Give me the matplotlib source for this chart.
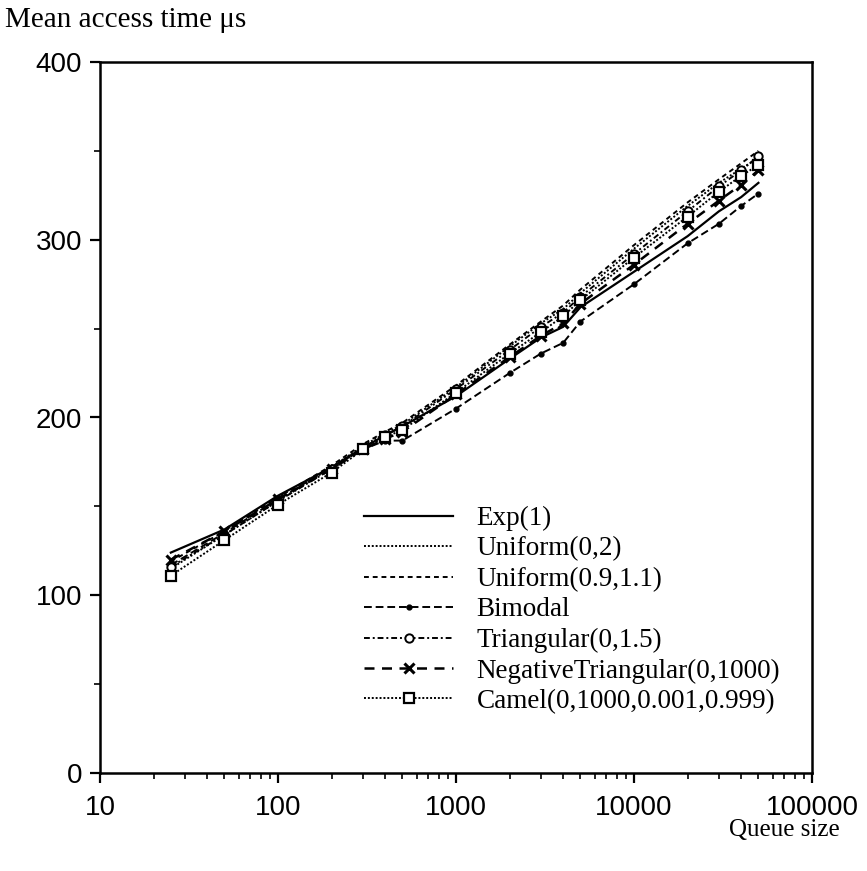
import matplotlib
matplotlib.use("Agg")
import matplotlib.pyplot as plt
from matplotlib.ticker import FixedLocator, NullFormatter, LogLocator

# queue sizes and mean access times (us) per distribution
queue_size = [25, 50, 100, 200, 300, 400, 500, 1000, 2000, 3000, 4000, 5000,
              10000, 20000, 30000, 40000, 50000]

exp1 = [124, 137, 156, 172, 183, 190, 195, 212, 233, 245, 251, 262, 282, 302, 316, 324, 332]
uniform_0_2 = [115, 134, 153, 172, 184, 191, 196, 217, 240, 253, 261, 270, 295, 319, 332, 340, 346]
uniform_09_11 = [119, 136, 155, 173, 185, 192, 197, 218, 241, 254, 263, 272, 297, 321, 334, 343, 350]
bimodal = [117, 135, 154, 172, 182, 187, 187, 205, 225, 236, 242, 254, 275, 298, 309, 319, 326]
triangular = [116, 134, 153, 171, 183, 190, 195, 216, 238, 251, 259, 268, 292, 316, 330, 339, 347]
neg_triangular = [120, 136, 154, 171, 182, 188, 192, 213, 234, 246, 253, 264, 286, 309, 322, 331, 339]
camel = [111, 131, 151, 169, 182, 189, 193, 214, 236, 248, 257, 266, 290, 313, 327, 336, 342]

labels = ["Exp(1)", "Uniform(0,2)", "Uniform(0.9,1.1)", "Bimodal",
          "Triangular(0,1.5)", "NegativeTriangular(0,1000)", "Camel(0,1000,0.001,0.999)"]

fig = plt.figure(figsize=(8.67, 8.71), dpi=100)
ax = fig.add_axes([100/867, 1-773/871, 712/867, 711/871])

ax.plot(queue_size, exp1, color="black", lw=1.6, ls="-", label=labels[0])
ax.plot(queue_size, uniform_0_2, color="black", lw=1.4, ls=(0, (1, 1)), label=labels[1])
ax.plot(queue_size, uniform_09_11, color="black", lw=1.4, ls=(0, (2.5, 2)), label=labels[2])
ax.plot(queue_size, bimodal, color="black", lw=1.4, ls=(0, (4, 2)), marker="o",
        ms=3.5, mfc="black", label=labels[3])
ax.plot(queue_size, triangular, color="black", lw=1.4, ls=(0, (3, 1.5, 1, 1.5)), marker="o",
        ms=6, mfc="white", mew=1.4, label=labels[4])
ax.plot(queue_size, neg_triangular, color="black", lw=1.8, ls=(0, (4, 3)), marker="x",
        ms=7, mew=2.2, label=labels[5])
ax.plot(queue_size, camel, color="black", lw=1.4, ls=(0, (1, 1)), marker="s",
        ms=7, mfc="white", mew=1.6, label=labels[6])

ax.set_xscale("log")
ax.set_xlim(10, 100000)
ax.set_ylim(0, 400)
ax.set_xticks([10, 100, 1000, 10000, 100000])
ax.set_xticklabels(["10", "100", "1000", "10000", "100000"])
ax.xaxis.set_minor_locator(LogLocator(base=10, subs=range(2, 10)))
ax.xaxis.set_minor_formatter(NullFormatter())
ax.set_yticks([0, 100, 200, 300, 400])
ax.yaxis.set_minor_locator(FixedLocator([50, 150, 250, 350]))

for s in ax.spines.values():
    s.set_linewidth(1.8)
ax.tick_params(which="major", direction="out", length=7, width=1.6,
               labelsize=20, pad=6, top=False, right=False)
ax.tick_params(axis="x", which="major", pad=9)
ax.tick_params(which="minor", direction="out", length=4, width=1.2, top=False, right=False)
for t in ax.get_xticklabels() + ax.get_yticklabels():
    t.set_family("Liberation Sans")

fig.text(5/867, 1-20/871, "Mean access time μs", family="Liberation Serif",
         fontsize=21, va="center", ha="left")
fig.text(840/867, 1-830/871, "Queue size", family="Liberation Serif",
         fontsize=18, va="center", ha="right")

leg = ax.legend(loc="upper left", bbox_to_anchor=(364/867, 1-506/871),
                bbox_transform=fig.transFigure, frameon=False,
                prop={"family": "Liberation Serif", "size": 19.5},
                handlelength=3.3, handletextpad=0.85, labelspacing=0.2,
                borderpad=0, borderaxespad=0)

fig.savefig("out.png", dpi=100)
